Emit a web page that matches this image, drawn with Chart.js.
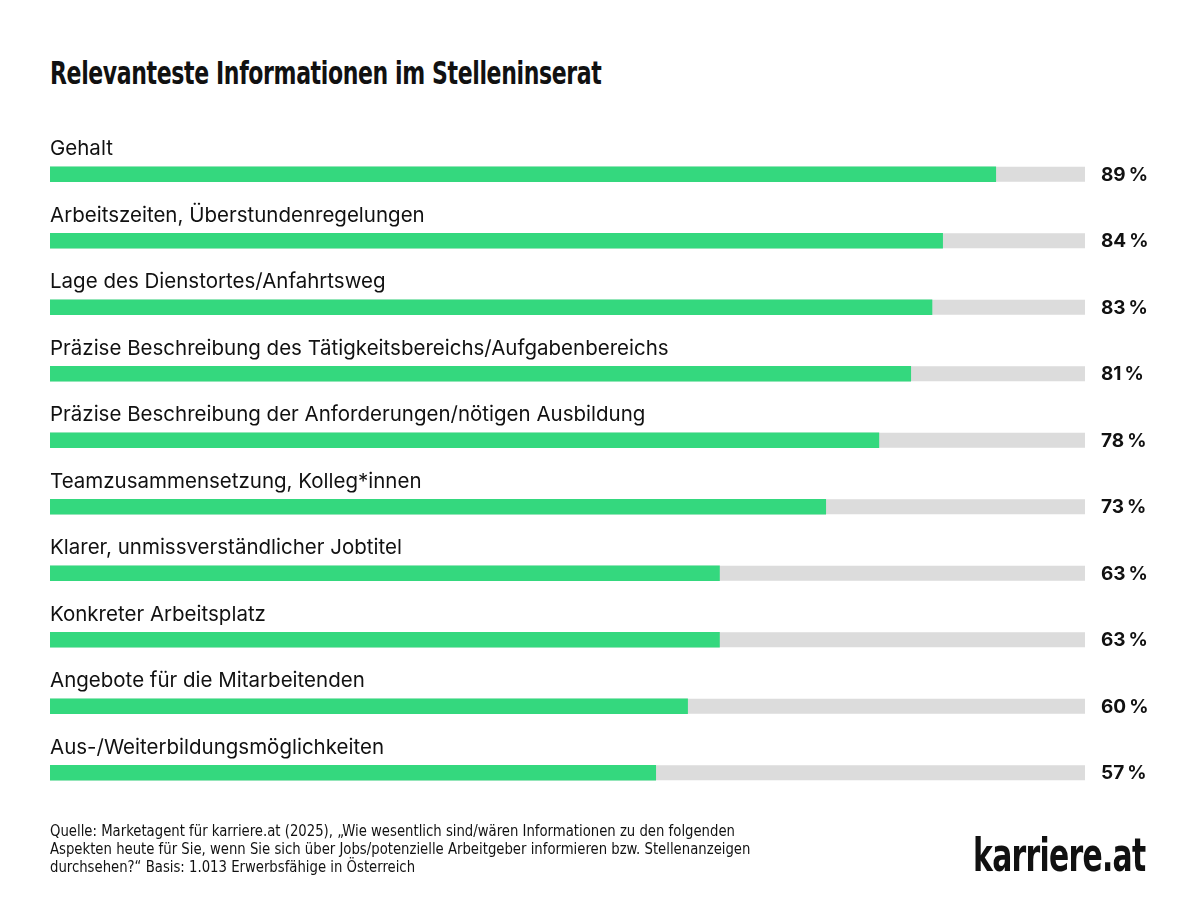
<!DOCTYPE html>
<html lang="de">
<head>
<meta charset="utf-8">
<script src="https://cdn.jsdelivr.net/npm/chart.js@4/dist/chart.umd.min.js"></script>
<style>
  html, body { margin: 0; padding: 0; background: #fff; }
  body { width: 1200px; height: 915px; position: relative; overflow: hidden; }
  #wrap { position: absolute; left: 0; top: 0; width: 1200px; height: 915px; }
  .title { position: absolute; left: 50px; top: 54px; font-family: "Liberation Sans Narrow", "DejaVu Sans Condensed", sans-serif;
           font-weight: bold; font-size: 32px; color: #111; transform-origin: left top; white-space: nowrap;
           letter-spacing: -0.5px; transform: scaleX(0.765); }
  .source { position: absolute; left: 50px; top: 822px; font-family: "Liberation Sans Narrow", "DejaVu Sans Condensed", sans-serif;
            font-size: 16px; line-height: 18px; color: #111; white-space: nowrap; transform-origin: left top; transform: scaleX(0.92); }
  .logo { position: absolute; right: 55px; top: 832px; font-family: "Liberation Sans Narrow", "DejaVu Sans Condensed", sans-serif;
          font-weight: bold; font-size: 46px; line-height: 46px; color: #111; letter-spacing: -1px;
          transform-origin: right top; transform: scaleX(0.72); }
</style>
</head>
<body>
<div class="title" id="title">Relevanteste Informationen im Stelleninserat</div>
<div id="wrap"><canvas id="myChart" width="1200" height="915"></canvas></div>
<div class="source">Quelle: Marketagent für karriere.at (2025), „Wie wesentlich sind/wären Informationen zu den folgenden<br>Aspekten heute für Sie, wenn Sie sich über Jobs/potenzielle Arbeitgeber informieren bzw. Stellenanzeigen<br>durchsehen?“ Basis: 1.013 Erwerbsfähige in Österreich</div>
<div class="logo" id="logo">karriere.at</div>
<script>
const categories = [
    'Gehalt',
    'Arbeitszeiten, Überstundenregelungen',
    'Lage des Dienstortes/Anfahrtsweg',
    'Präzise Beschreibung des Tätigkeitsbereichs/Aufgabenbereichs',
    'Präzise Beschreibung der Anforderungen/nötigen Ausbildung',
    'Teamzusammensetzung, Kolleg*innen',
    'Klarer, unmissverständlicher Jobtitel',
    'Konkreter Arbeitsplatz',
    'Angebote für die Mitarbeitenden',
    'Aus-/Weiterbildungsmöglichkeiten'
];
const values = [89, 84, 83, 81, 78, 73, 63, 63, 60, 57];
const valueLabels = ['89\u2009%', '84\u2009%', '83\u2009%', '81\u2009%', '78\u2009%', '73\u2009%', '63\u2009%', '63\u2009%', '60\u2009%', '57\u2009%'];

// the grey track ends a bit before 100 %
const axisMax = 97.4;

// grey track behind every bar + text above/right of each bar
const barText = {
    id: 'barText',
    beforeDatasetsDraw(chart) {
        const { ctx, chartArea } = chart;
        const meta = chart.getDatasetMeta(0);
        ctx.save();
        ctx.fillStyle = '#dcdcdc';
        meta.data.forEach(bar => {
            ctx.fillRect(chartArea.left, bar.y - bar.height / 2, chartArea.right - chartArea.left, bar.height);
        });
        ctx.restore();
    },
    afterDatasetsDraw(chart) {
        const { ctx, chartArea } = chart;
        const meta = chart.getDatasetMeta(0);
        ctx.save();
        ctx.fillStyle = '#111';
        meta.data.forEach((bar, i) => {
            ctx.font = '400 20.5px Inter, "Noto Sans", sans-serif';
            ctx.textAlign = 'left';
            ctx.textBaseline = 'middle';
            ctx.fillText(categories[i], chartArea.left, bar.y - 25);
            ctx.font = '700 19px Inter, "Noto Sans", sans-serif';
            ctx.fillText(valueLabels[i], chartArea.right + 16, bar.y + 1);
        });
        ctx.restore();
    }
};

const ctx = document.getElementById('myChart');

const myChart = new Chart(ctx, {
    type: 'bar',
    data: {
        labels: categories,
        datasets: [{
            data: values,
            backgroundColor: '#34d87e',
            borderWidth: 0,
            barThickness: 15
        }]
    },
    options: {
        indexAxis: 'y',
        responsive: false,
        animation: false,
        layout: {
            padding: { left: 50, right: 115, top: 141, bottom: 109 }
        },
        plugins: {
            legend: { display: false },
            tooltip: { enabled: false }
        },
        scales: {
            x: { min: 0, max: axisMax, display: false, grid: { display: false } },
            y: { display: false, grid: { display: false } }
        }
    },
    plugins: [barText]
});
</script>
</body>
</html>
